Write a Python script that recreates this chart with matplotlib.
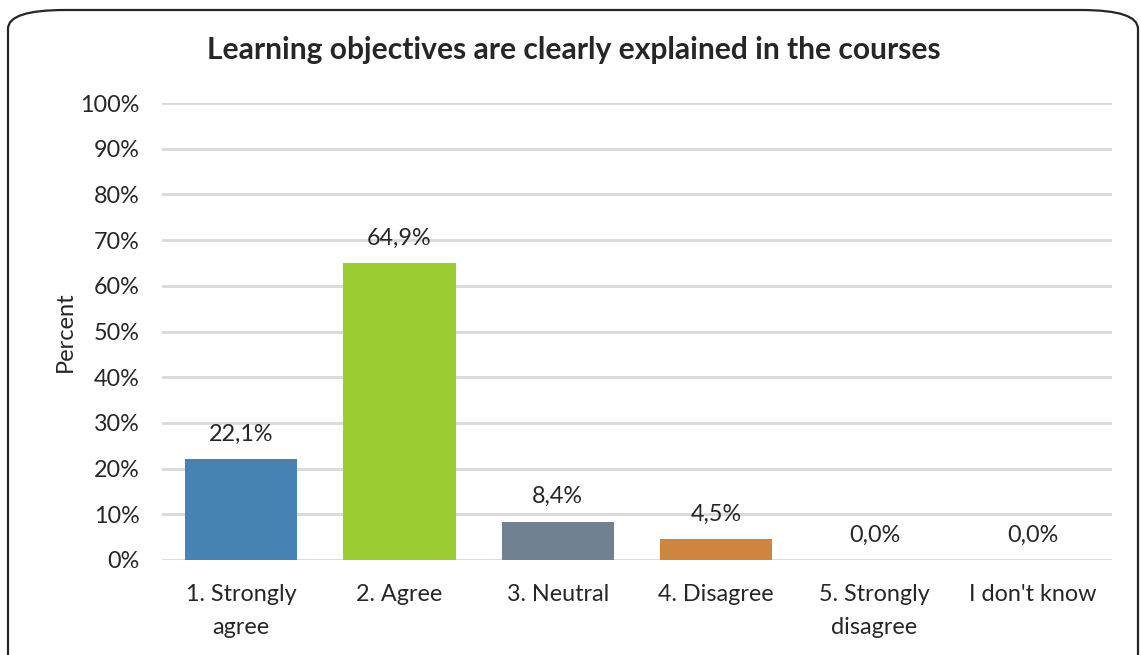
import matplotlib.pyplot as plt
from matplotlib.patches import FancyBboxPatch

categories = ["1. Strongly\nagree", "2. Agree", "3. Neutral", "4. Disagree",
              "5. Strongly\ndisagree", "I don't know"]
values = [22.1, 64.9, 8.4, 4.5, 0.0, 0.0]
colors = ["#4682B4", "#9ACD32", "#708090", "#CD853F", "#9ACD32", "#9ACD32"]
yticks = list(range(0, 101, 10))

plt.rcParams['font.family'] = ['Lato', 'DejaVu Sans']
text_col = "#262626"

fig = plt.figure(figsize=(11.41, 6.55), dpi=100)
ax = fig.add_axes([162 / 1141, 1 - 560 / 655, 950 / 1141, 457 / 655])

# Rounded frame round the whole chart
frame = FancyBboxPatch((8 / 1141, -0.05), 1130 / 1141, 1 - 10 / 655 + 0.05,
                       boxstyle="round,pad=0,rounding_size=0.05",
                       transform=fig.transFigure, facecolor="none",
                       edgecolor="#262626", linewidth=1.6, zorder=0,
                       mutation_aspect=655 / 1141)
fig.patches.append(frame)

x = range(len(categories))
bars = ax.bar(x, values, width=0.71, color=colors, zorder=3)
for xi, v in zip(x, values):
    ax.text(xi, v + 3.2, f"{v:.1f}%".replace(".", ","), ha="center", va="bottom",
            fontsize=16.8, color=text_col)

ax.set_xlim(-0.5, len(categories) - 0.5)
ax.set_ylim(0, 100)
ax.set_yticks(yticks)
ax.set_yticklabels([f"{t}%" for t in yticks])
ax.set_xticks(list(x))
ax.set_xticklabels(categories, linespacing=1.7)
ax.yaxis.grid(True, color="#D9D9D9", linewidth=2, zorder=0)
ax.set_axisbelow(True)
for s in ax.spines.values():
    s.set_visible(False)
ax.tick_params(length=0, labelsize=16.8, colors=text_col)
ax.tick_params(axis="y", pad=16)
ax.tick_params(axis="x", pad=17)
ax.set_ylabel("Percent", fontsize=17, color=text_col, labelpad=3)

fig.text(574 / 1141, 1 - 50 / 655, "Learning objectives are clearly explained in the courses",
         ha="center", va="center", fontsize=21.6, fontweight="bold", color=text_col)

plt.savefig("out.png", dpi=100)
